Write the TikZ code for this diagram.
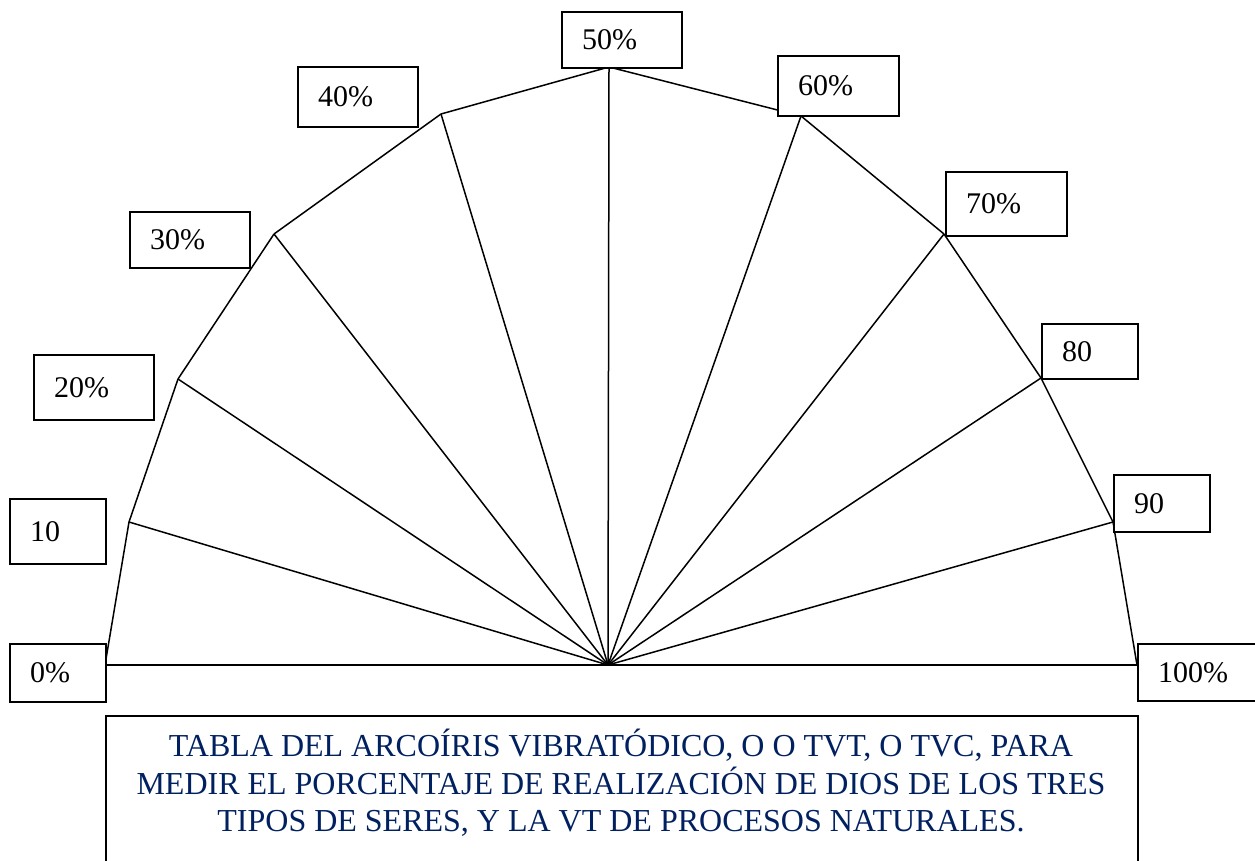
\documentclass[tikz,border=0pt]{standalone}
\usepackage{fontspec}
\setmainfont{Liberation Serif}
\definecolor{navy}{RGB}{0,32,96}

\begin{document}
\begin{tikzpicture}[x=1pt, y=-1pt, line width=1.5pt,
  box/.style={draw, fill=white, line width=2pt, anchor=north west, align=left, inner xsep=20pt, inner ysep=0pt, font=\fontsize{30}{36}\selectfont}]
  \useasboundingbox (0,0) rectangle (1255,861);
  \coordinate (c) at (608,665);
  \coordinate (v0) at (105,665);
  \coordinate (v1) at (129,522);
  \coordinate (v2) at (178,379);
  \coordinate (v3) at (274,234);
  \coordinate (v4) at (441,114);
  \coordinate (v5) at (609,67);
  \coordinate (v6) at (801,116);
  \coordinate (v7) at (944,234);
  \coordinate (v8) at (1041,378);
  \coordinate (v9) at (1113,522);
  \coordinate (v10) at (1137,665);
  \draw (v0) -- (v10);
  \draw (v0) -- (v1);
  \draw (v1) -- (v2);
  \draw (v2) -- (v3);
  \draw (v3) -- (v4);
  \draw (v4) -- (v5);
  \draw (v5) -- (v6);
  \draw (v6) -- (v7);
  \draw (v7) -- (v8);
  \draw (v8) -- (v9);
  \draw (v9) -- (v10);
  \draw (c) -- (v1);
  \draw (c) -- (v2);
  \draw (c) -- (v3);
  \draw (c) -- (v4);
  \draw (c) -- (v5);
  \draw (c) -- (v6);
  \draw (c) -- (v7);
  \draw (c) -- (v8);
  \draw (c) -- (v9);
  \node[box, text width=56pt, minimum height=58pt] (b0) at (9,643) {0\%};
  \node[box, text width=56pt, minimum height=65pt] (b1) at (9,498) {10};
  \node[box, text width=80pt, minimum height=65pt] (b2) at (33,354) {20\%};
  \node[box, text width=80pt, minimum height=56pt] (b3) at (129,211) {30\%};
  \node[box, text width=80pt, minimum height=60pt] (b4) at (297,66) {40\%};
  \node[box, text width=80pt, minimum height=56pt] (b5) at (561,11) {50\%};
  \node[box, text width=81pt, minimum height=60pt] (b6) at (777,55) {60\%};
  \node[box, text width=81pt, minimum height=64pt] (b7) at (945,171) {70\%};
  \node[box, text width=56pt, minimum height=55pt] (b8) at (1041,323) {80};
  \node[box, text width=56pt, minimum height=57pt] (b9) at (1113,474) {90};
  \node[box, text width=80pt, minimum height=57pt] (b10) at (1137,643) {100\%};
  \node[draw, line width=2pt, anchor=north west, minimum width=1032pt, minimum height=170pt] (tbox) at (105,715) {};
  \node[text=navy, align=center, inner sep=0pt, font=\fontsize{32}{37.5}\selectfont] (title) at (621,783) {TABLA DEL ARCOÍRIS VIBRATÓDICO, O O TVT, O TVC, PARA\\MEDIR EL PORCENTAJE DE REALIZACIÓN DE DIOS DE LOS TRES\\TIPOS DE SERES, Y LA VT DE PROCESOS NATURALES.};
\end{tikzpicture}
\end{document}
